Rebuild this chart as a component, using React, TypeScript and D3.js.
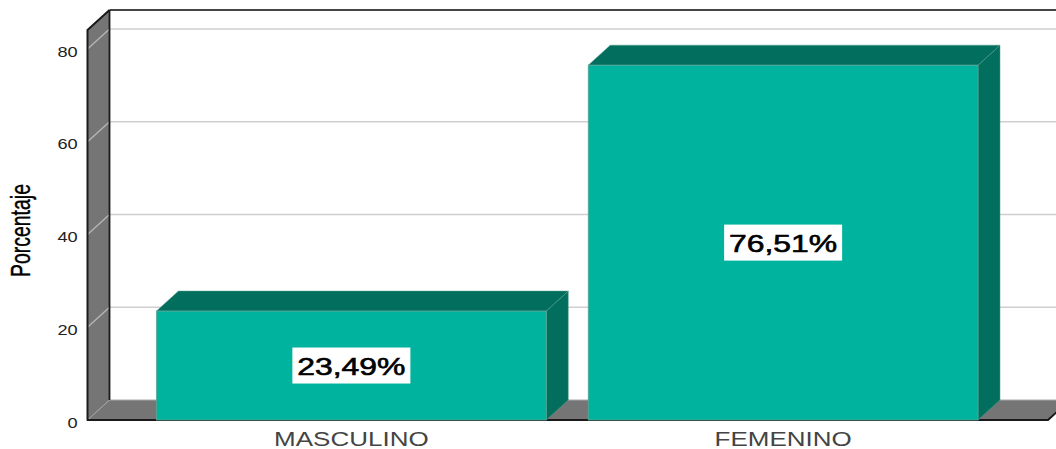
import React from "react";
import * as d3 from "d3";

const categories = ["MASCULINO", "FEMENINO"];
const values = [23.49, 76.51];
const valueLabels = ["23,49%", "76,51%"];
const yTicks = [0, 20, 40, 60, 80];
const yTitle = "Porcentaje";

const W = 1056, H = 449;
const DX = 22, DY = -20;
const FONT = "'Liberation Sans', Arial, sans-serif";

const y = d3.scaleLinear().domain([0, 80]).range([420, 49]);
const x = d3.scaleBand<string>().domain(categories).range([135.5, 999]).paddingInner(0.0972).paddingOuter(0.0486);

const poly = (pts: [number, number][]) => pts.map((p) => p.join(",")).join(" ");

function StretchedText({ cx, cy, sx, size, weight, fill, stroke, sw, children }: any) {
  return (
    <text transform={`translate(${cx},${cy}) scale(${sx},1)`} textAnchor="middle" fontFamily={FONT} fontSize={size} fontWeight={weight} fill={fill} stroke={stroke} strokeWidth={sw}>
      {children}
    </text>
  );
}

export default function App() {
  const x0 = 87.5, y0 = y(0), yTop = 30, xEnd = 1048;
  return (
    <svg width={W} height={H} viewBox={`0 0 ${W} ${H}`} style={{ position: "absolute", left: 0, top: 0, background: "#fff" }}>
      {/* left wall */}
      <polygon points={poly([[x0, y0], [x0 + DX, y0 + DY], [x0 + DX, yTop + DY], [x0, yTop]])} fill="#757575" />
      {/* floor */}
      <polygon points={poly([[x0, y0], [x0 + DX, y0 + DY], [xEnd + DX, y0 + DY], [xEnd, y0]])} fill="#757575" />
      {/* grid */}
      {yTicks.filter((t) => t > 0).map((t) => (
        <g key={t} stroke="#cfcfcf" strokeWidth={1.4}>
          <line x1={x0 + DX} x2={W} y1={y(t) + DY} y2={y(t) + DY} />
          <line x1={x0} x2={x0 + DX} y1={y(t)} y2={y(t) + DY} stroke="#b5b5b5" />
        </g>
      ))}
      <line x1={x0} x2={x0 + DX} y1={y0} y2={y0 + DY} stroke="#a5a5a5" strokeWidth={1} />
      <line x1={x0 + DX} x2={W} y1={y0 + DY} y2={y0 + DY} stroke="#aaaaaa" strokeWidth={1.2} />
      {/* wall outlines */}
      <line x1={x0 + DX} x2={W} y1={yTop + DY} y2={yTop + DY} stroke="#444" strokeWidth={1.8} />
      <line x1={x0 + DX} x2={x0 + DX} y1={yTop + DY} y2={y0 + DY} stroke="#1a1a1a" strokeWidth={1.8} />
      <path d={`M${x0 + DX},${yTop + DY}L${x0},${yTop}V${y0}H${xEnd}L${xEnd + DX},${y0 + DY}`} fill="none" stroke="#1a1a1a" strokeWidth={2} strokeLinejoin="round" />

      {/* bars */}
      {categories.map((c, i) => {
        const l = x(c)!, r = l + x.bandwidth();
        const t = y(values[i]);
        const cx = (l + r) / 2, cy = (t + y0) / 2;
        return (
          <g key={c}>
            <polygon points={poly([[r, y0], [r + DX, y0 + DY], [r + DX, t + DY], [r, t]])} fill="#026e5e" stroke="#4f9f8d" strokeWidth={0.5} />
            <polygon points={poly([[l, t], [l + DX, t + DY], [r + DX, t + DY], [r, t]])} fill="#026e5e" stroke="#4f9f8d" strokeWidth={0.5} />
            <rect x={l} y={t} width={r - l} height={y0 - t} fill="#00b39e" stroke="#5fa594" strokeWidth={0.8} />
            <rect x={cx - 59} y={cy - 18} width={118} height={36} fill="#fff" />
            <StretchedText cx={cx} cy={cy + 9} sx={1.33} size={24} weight={400} fill="#000" stroke="#000" sw={0.6}>{valueLabels[i]}</StretchedText>
            <StretchedText cx={cx} cy={445.5} sx={1.3} size={20} weight={400} fill="#444">{c}</StretchedText>
          </g>
        );
      })}

      {/* y ticks */}
      {yTicks.map((t) => (
        <StretchedText key={t} cx={t === 0 ? 72.5 : 67.5} cy={y(t) + 7.5} sx={1.3} size={14} weight={400} fill="#222">{t}</StretchedText>
      ))}

      {/* y title */}
      <text transform={`translate(30,230.5) rotate(-90) scale(0.72,1)`} textAnchor="middle" fontFamily={FONT} fontSize={27} fontWeight={400} fill="#000" stroke="#000" strokeWidth={0.4}>{yTitle}</text>
    </svg>
  );
}
